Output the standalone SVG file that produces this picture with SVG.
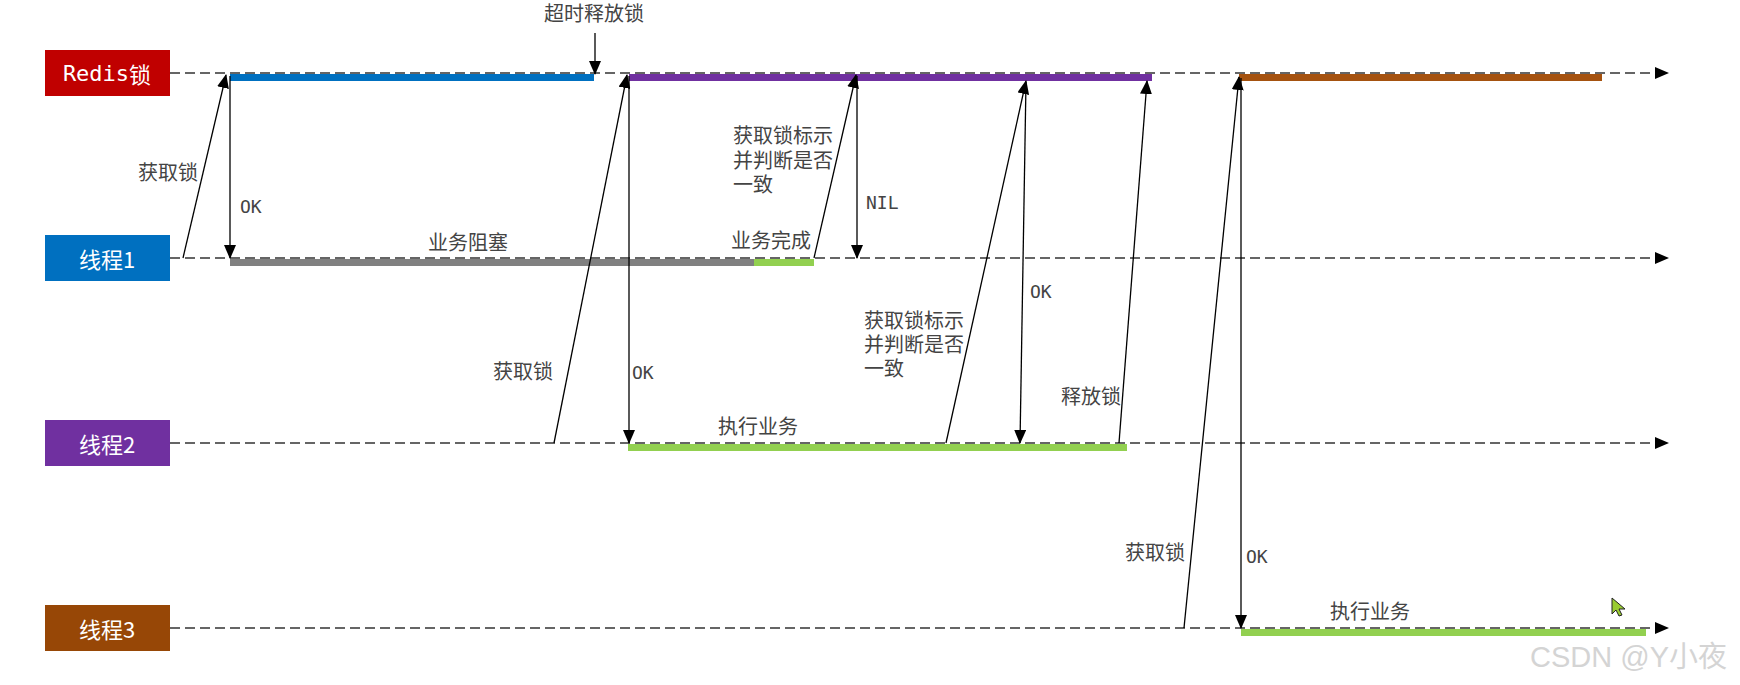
<svg xmlns="http://www.w3.org/2000/svg" width="1740" height="685" viewBox="0 0 1740 685">
<defs>
<marker id="ah" markerUnits="userSpaceOnUse" markerWidth="14" markerHeight="12" refX="13" refY="6" orient="auto"><path d="M0,0 L14,6 L0,12 z" fill="#000"/></marker>
<marker id="tl" markerUnits="userSpaceOnUse" markerWidth="14" markerHeight="12" refX="13" refY="6" orient="auto"><path d="M0,0 L14,6 L0,12 z" fill="#000"/></marker>
<style>
.box text{font-size:22px;fill:#fff;text-anchor:middle;dominant-baseline:central;font-family:"Noto Sans CJK SC","Noto Sans",sans-serif}
.mono{font-family:"DejaVu Sans Mono","Noto Sans CJK SC",monospace}
.tline{stroke:#333;stroke-width:1.5;stroke-dasharray:10 5;fill:none;marker-end:url(#tl)}
.msg{stroke:#000;stroke-width:1.3;fill:none;marker-end:url(#ah)}
.lbl{font-family:"Noto Sans CJK SC","Noto Sans",sans-serif;font-size:20px;fill:#444}
.code{font-family:"DejaVu Sans Mono",monospace;font-size:18px;fill:#444}
</style>
</defs>
<rect width="1740" height="685" fill="#fff"/>

<g id="timelines">
<line class="tline" x1="170" y1="73" x2="1668" y2="73"/>
<line class="tline" x1="170" y1="258" x2="1668" y2="258"/>
<line class="tline" x1="170" y1="443" x2="1668" y2="443"/>
<line class="tline" x1="170" y1="628" x2="1668" y2="628"/>
</g>

<g id="bars">
<rect x="230" y="74" width="364" height="7" fill="#0070C0"/>
<rect x="629" y="74" width="523" height="7" fill="#7030A0"/>
<rect x="1239" y="74" width="363" height="7" fill="#A5520F"/>
<rect x="230" y="259" width="524" height="7" fill="#808080"/>
<rect x="754" y="259" width="60" height="7" fill="#92D050"/>
<rect x="628" y="444" width="499" height="7" fill="#92D050"/>
<rect x="1241" y="629" width="405" height="7" fill="#92D050"/>
</g>

<g id="node-redis" class="box">
<rect x="45" y="50" width="125" height="46" fill="#C00000"/>
<text x="107" y="73"><tspan class="mono">Redis</tspan>锁</text>
</g>
<g id="node-t1" class="box">
<rect x="45" y="235" width="125" height="46" fill="#0070C0"/>
<text x="107" y="258">线程1</text>
</g>
<g id="node-t2" class="box">
<rect x="45" y="420" width="125" height="46" fill="#7030A0"/>
<text x="107" y="443">线程2</text>
</g>
<g id="node-t3" class="box">
<rect x="45" y="605" width="125" height="46" fill="#974706"/>
<text x="107" y="628">线程3</text>
</g>

<g id="connectors">
<line class="msg" x1="183" y1="258" x2="226" y2="75"/>
<line class="msg" x1="230" y1="76" x2="230" y2="258"/>
<line class="msg" x1="595" y1="33" x2="595" y2="74"/>
<line class="msg" x1="554" y1="443" x2="627" y2="75"/>
<line class="msg" x1="629" y1="76" x2="629" y2="443"/>
<line class="msg" x1="814" y1="258" x2="856" y2="75"/>
<line class="msg" x1="857" y1="76" x2="857" y2="258"/>
<line class="msg" x1="946" y1="443" x2="1026" y2="81"/>
<line class="msg" x1="1026" y1="82" x2="1020" y2="443"/>
<line class="msg" x1="1119" y1="443" x2="1147" y2="81"/>
<line class="msg" x1="1184" y1="628" x2="1239" y2="77"/>
<line class="msg" x1="1241" y1="78" x2="1241" y2="628"/>
</g>

<g id="labels">
<text class="lbl" x="594" y="21" text-anchor="middle">超时释放锁</text>
<text class="lbl" x="138" y="180">获取锁</text>
<text class="code" x="240" y="213">OK</text>
<text class="lbl" x="468" y="250" text-anchor="middle">业务阻塞</text>
<text class="lbl" x="733" y="143">获取锁标示<tspan x="733" dy="24.5">并判断是否</tspan><tspan x="733" dy="24.5">一致</tspan></text>
<text class="code" x="866" y="209">NIL</text>
<text class="lbl" x="771" y="248" text-anchor="middle">业务完成</text>
<text class="lbl" x="493" y="379">获取锁</text>
<text class="code" x="632" y="379">OK</text>
<text class="lbl" x="758" y="434" text-anchor="middle">执行业务</text>
<text class="code" x="1030" y="298">OK</text>
<text class="lbl" x="864" y="328">获取锁标示<tspan x="864" dy="24">并判断是否</tspan><tspan x="864" dy="24">一致</tspan></text>
<text class="lbl" x="1061" y="404">释放锁</text>
<text class="lbl" x="1125" y="560">获取锁</text>
<text class="code" x="1246" y="563">OK</text>
<text class="lbl" x="1370" y="619" text-anchor="middle">执行业务</text>
</g>

<g id="cursor">
<path d="M1612,598 L1612,614 L1616,610 L1619,616 L1622,615 L1619,609 L1625,609 z" fill="#9ACD32" stroke="#222" stroke-width="1"/>
</g>
<text x="1530" y="667" font-family="'Liberation Sans','Noto Sans CJK SC',sans-serif" font-size="29" fill="#d4d4d4">CSDN @Y小夜</text>
</svg>
